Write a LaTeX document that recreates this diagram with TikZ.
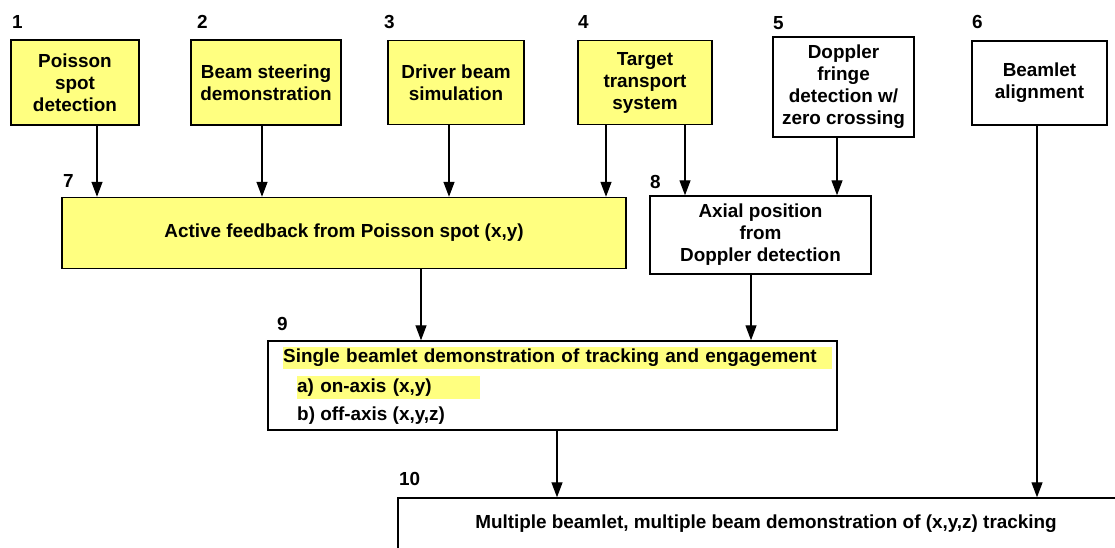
\documentclass[tikz,border=0pt]{standalone}
\usepackage{fontspec}
\setsansfont{Liberation Sans}
\usetikzlibrary{calc}
\usetikzlibrary{arrows.meta}
\definecolor{boxyellow}{RGB}{255,255,128}
\tikzset{every picture/.style={/utils/exec={\sffamily\bfseries}}}

\begin{document}
\begin{tikzpicture}[x=1pt, y=-1pt,
    font=\fontsize{18.9}{22}\selectfont,
    box/.style={draw, line width=1.4pt, align=center, inner sep=2pt},
    ybox/.style={box, fill=boxyellow},
    num/.style={anchor=base west, inner sep=0pt},
    feed/.style={line width=1.3pt, -{Triangle[length=15pt, width=11pt]}}]

  \useasboundingbox (0,0) rectangle (1115,548);

  % top row
  \node [ybox, minimum width=128pt, minimum height=85pt] at (75,82.5) (b1) {Poisson\\spot\\detection};
  \node [ybox, minimum width=150pt, minimum height=85pt] at (266,82.5) (b2) {Beam steering\\demonstration};
  \node [ybox, minimum width=136pt, minimum height=84pt] at (456,82.5) (b3) {Driver beam\\simulation};
  \node [ybox, minimum width=134pt, minimum height=84pt] at (645,82.5) (b4) {Target\\transport\\system};
  \node [box, minimum width=141pt, minimum height=100pt] at (843.5,87) (b5) {Doppler\\fringe\\detection w/\\zero crossing};
  \node [box, minimum width=135pt, minimum height=84pt] at (1039.5,83) (b6) {Beamlet\\alignment};

  % middle
  \node [ybox, minimum width=564pt, minimum height=71pt] at (344,233) (b7) {Active feedback from Poisson spot (x,y)};
  \node [box, minimum width=221pt, minimum height=78pt] at (760.5,235) (b8) {Axial position\\from\\Doppler detection};

  \node [box, minimum width=569pt, minimum height=89pt] at (552.5,385.5) (b9) {};
  \node [fill=boxyellow, anchor=west, inner sep=0pt, minimum height=22pt, text width=549pt, align=left] at (283,358) (s9a) {Single beamlet demonstration of tracking and engagement};
  \node [fill=boxyellow, anchor=west, inner sep=0pt, minimum height=23pt, text width=183pt, align=left] at (297,387.5) (s9b) {a) on-axis (x,y)};
  \node [anchor=west, inner sep=0pt] at (297,416) (s9c) {b) off-axis (x,y,z)};

  \node [box, minimum width=736pt, minimum height=52pt] at (766,524) (b10) {Multiple beamlet, multiple beam demonstration of (x,y,z) tracking};

  % numbers
  \foreach \n/\x/\y in {1/12/29, 2/197/29, 3/384/29, 4/578/29, 5/773/30, 6/972/29,
                        7/63/187, 8/650/188, 9/277/330, 10/399/485}
    \node [num] (l\n) at (\x,\y) {\n};

  % arrows
  \foreach \s/\t/\dx in {b1/b7/22, b2/b7/-4, b3/b7/-7, b4/b7/-39, b4/b8/40,
                         b5/b8/-6.5, b7/b9/77, b8/b9/-9.5, b9/b10/4.5, b6/b10/-2.5}
    \draw [feed] ([xshift=\dx pt]\s.south) -- ([xshift=\dx pt]\s.south |- \t.north);

\end{tikzpicture}
\end{document}
